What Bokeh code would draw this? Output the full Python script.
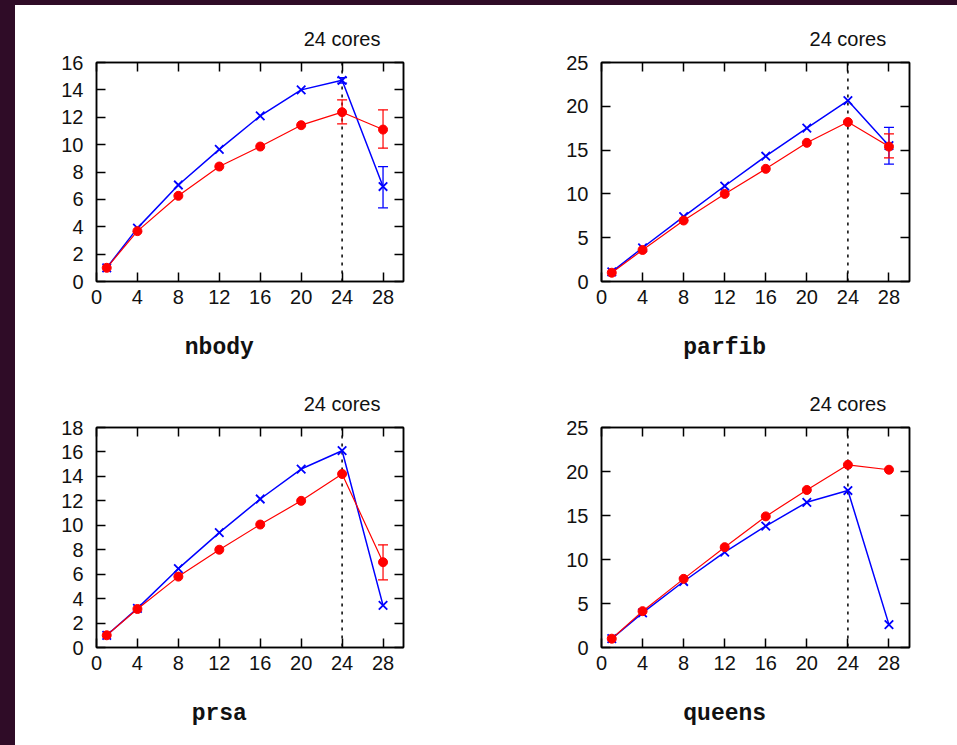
from bokeh.plotting import figure
from bokeh.models import (Range1d, FixedTicker, LinearAxis, Span, Whisker,
                          ColumnDataSource, TeeHead)
from bokeh.layouts import column, row
from bokeh.embed import file_html
from bokeh.resources import INLINE

# ---------------- data ----------------
cores = [1, 4, 8, 12, 16, 20, 24, 28]
x_ticks = [0, 4, 8, 12, 16, 20, 24, 28]
marker_label = "24 cores"
marker_core = 24
name_pos = 12  # x position under which the benchmark name sits

names = ["nbody", "parfib", "prsa", "queens"]
y_max = [16, 25, 18, 25]
y_step = [2, 5, 2, 5]

nbody_blue = [1.0, 3.9, 7.05, 9.65, 12.1, 14.0, 14.7, 6.94]
nbody_red = [1.0, 3.68, 6.26, 8.4, 9.86, 11.42, 12.37, 11.1]
parfib_blue = [1.1, 3.85, 7.4, 10.9, 14.3, 17.5, 20.65, 15.5]
parfib_red = [1.0, 3.6, 6.96, 10.0, 12.86, 15.83, 18.2, 15.4]
prsa_blue = [1.0, 3.2, 6.45, 9.4, 12.15, 14.6, 16.1, 3.45]
prsa_red = [1.0, 3.15, 5.8, 8.0, 10.06, 12.0, 14.2, 6.98]
queens_blue = [1.0, 3.94, 7.5, 10.83, 13.8, 16.5, 17.84, 2.6]
queens_red = [1.0, 4.13, 7.8, 11.4, 14.9, 17.9, 20.76, 20.2]

# error bars (x, lower, upper)
nbody_blue_err_x = [24, 28]
nbody_blue_err_lo = [14.5, 5.38]
nbody_blue_err_hi = [14.9, 8.4]
nbody_red_err_x = [24, 28]
nbody_red_err_lo = [11.52, 9.74]
nbody_red_err_hi = [13.27, 12.54]
parfib_blue_err_x = [28]
parfib_blue_err_lo = [13.4]
parfib_blue_err_hi = [17.6]
parfib_red_err_x = [28]
parfib_red_err_lo = [14.12]
parfib_red_err_hi = [16.86]
prsa_blue_err_x = []
prsa_blue_err_lo = []
prsa_blue_err_hi = []
prsa_red_err_x = [28]
prsa_red_err_lo = [5.54]
prsa_red_err_hi = [8.4]
queens_blue_err_x = []
queens_blue_err_lo = []
queens_blue_err_hi = []
queens_red_err_x = []
queens_red_err_lo = []
queens_red_err_hi = []

blue_series = [nbody_blue, parfib_blue, prsa_blue, queens_blue]
red_series = [nbody_red, parfib_red, prsa_red, queens_red]
blue_errs = [(nbody_blue_err_x, nbody_blue_err_lo, nbody_blue_err_hi),
             (parfib_blue_err_x, parfib_blue_err_lo, parfib_blue_err_hi),
             (prsa_blue_err_x, prsa_blue_err_lo, prsa_blue_err_hi),
             (queens_blue_err_x, queens_blue_err_lo, queens_blue_err_hi)]
red_errs = [(nbody_red_err_x, nbody_red_err_lo, nbody_red_err_hi),
            (parfib_red_err_x, parfib_red_err_lo, parfib_red_err_hi),
            (prsa_red_err_x, prsa_red_err_lo, prsa_red_err_hi),
            (queens_red_err_x, queens_red_err_lo, queens_red_err_hi)]

# ---------------- style ----------------
BLUE = "#0000ff"
RED = "#ff0000"
TICK_FONT = "Liberation Sans"
TITLE_FONT = "Liberation Mono"
X_MAX = 30

# layout geometry (width, height, left, right, top, bottom borders)
geom = [
    (490, 365, 81, 102, 57, 89),
    (452, 365, 96, 48, 57, 89),
    (490, 375, 81, 102, 57, 98),
    (452, 375, 96, 48, 57, 98),
]


def style_axis(ax, show_labels=True):
    ax.major_tick_in = 9
    ax.major_tick_out = 0
    ax.minor_tick_in = 0
    ax.minor_tick_out = 0
    ax.axis_line_width = 1.5
    ax.axis_line_color = "black"
    ax.major_tick_line_width = 1.5
    ax.major_tick_line_color = "black"
    if show_labels:
        ax.major_label_text_font = TICK_FONT
        ax.major_label_text_font_size = "20px"
        ax.major_label_text_color = "#111111"
    else:
        ax.major_label_text_font_size = "0px"
        ax.major_label_text_color = None


def make_panel(i):
    w, h, bl, br, bt, bb = geom[i]
    ym = y_max[i]
    p = figure(width=w, height=h, output_backend="svg", toolbar_location=None,
               x_range=Range1d(0, X_MAX), y_range=Range1d(0, ym),
               min_border_left=bl, min_border_right=br,
               min_border_top=bt, min_border_bottom=bb,
               background_fill_color="white", border_fill_color="white",
               outline_line_color="black", outline_line_width=1.5)
    p.grid.visible = False
    yt = list(range(0, ym + 1, y_step[i]))

    p.xaxis.ticker = FixedTicker(ticks=x_ticks)
    p.yaxis.ticker = FixedTicker(ticks=yt)
    style_axis(p.xaxis[0])
    style_axis(p.yaxis[0])
    p.xaxis.major_label_standoff = 8
    p.yaxis.major_label_standoff = 13

    # mirrored ticks on top, carrying the "24 cores" note
    top = LinearAxis(ticker=FixedTicker(ticks=x_ticks))
    style_axis(top)
    top.major_label_overrides = {t: (marker_label if t == marker_core else "") for t in x_ticks}
    top.major_label_standoff = 13
    right = LinearAxis(ticker=FixedTicker(ticks=yt))
    style_axis(right, False)
    p.add_layout(top, "above")
    p.add_layout(right, "right")

    # benchmark name below the x axis
    name_axis = LinearAxis(ticker=FixedTicker(ticks=[name_pos]))
    name_axis.axis_line_color = None
    name_axis.major_tick_line_color = None
    name_axis.minor_tick_line_color = None
    name_axis.major_tick_in = 0
    name_axis.major_tick_out = 0
    name_axis.major_label_overrides = {name_pos: names[i]}
    name_axis.major_label_text_font = TITLE_FONT
    name_axis.major_label_text_font_size = "23px"
    name_axis.major_label_text_font_style = "bold"
    name_axis.major_label_text_color = "#111111"
    name_axis.major_label_standoff = 28
    p.add_layout(name_axis, "below")

    p.add_layout(Span(location=marker_core, dimension="height", line_color="black",
                      line_width=1.5, line_dash="3 5", level="underlay"))

    # blue series
    p.line(cores, blue_series[i], line_color=BLUE, line_width=1.5)
    p.scatter(cores, blue_series[i], marker="x", size=12, line_color=BLUE, line_width=1.8)
    bx, blo, bhi = blue_errs[i]
    if bx:
        src = ColumnDataSource(dict(x=bx, lo=blo, hi=bhi))
        p.add_layout(Whisker(source=src, base="x", lower="lo", upper="hi",
                             line_color=BLUE, line_width=1.3,
                             upper_head=TeeHead(size=10, line_color=BLUE, line_width=1.3),
                             lower_head=TeeHead(size=10, line_color=BLUE, line_width=1.3)))
    # red series
    p.line(cores, red_series[i], line_color=RED, line_width=1.2)
    rx, rlo, rhi = red_errs[i]
    if rx:
        src = ColumnDataSource(dict(x=rx, lo=rlo, hi=rhi))
        p.add_layout(Whisker(source=src, base="x", lower="lo", upper="hi",
                             line_color=RED, line_width=1.2,
                             upper_head=TeeHead(size=10, line_color=RED, line_width=1.2),
                             lower_head=TeeHead(size=10, line_color=RED, line_width=1.2)))
    p.scatter(cores, red_series[i], marker="circle", size=9, fill_color=RED,
              line_color=RED, line_width=1)
    return p


panels = [make_panel(i) for i in range(4)]
layout = column(row(panels[0], panels[1]), row(panels[2], panels[3]))

html = file_html(layout, INLINE, title="speedup")
style = ("<style>html,body{margin:0;padding:0;overflow:hidden;background:#ffffff;}"
         "body{box-sizing:border-box;height:100%;border-top:5px solid #2f0c27;"
         "border-left:15px solid #2f0c27;}</style>")
html = html.replace("</head>", style + "</head>", 1)
open("out.html", "w").write(html)
